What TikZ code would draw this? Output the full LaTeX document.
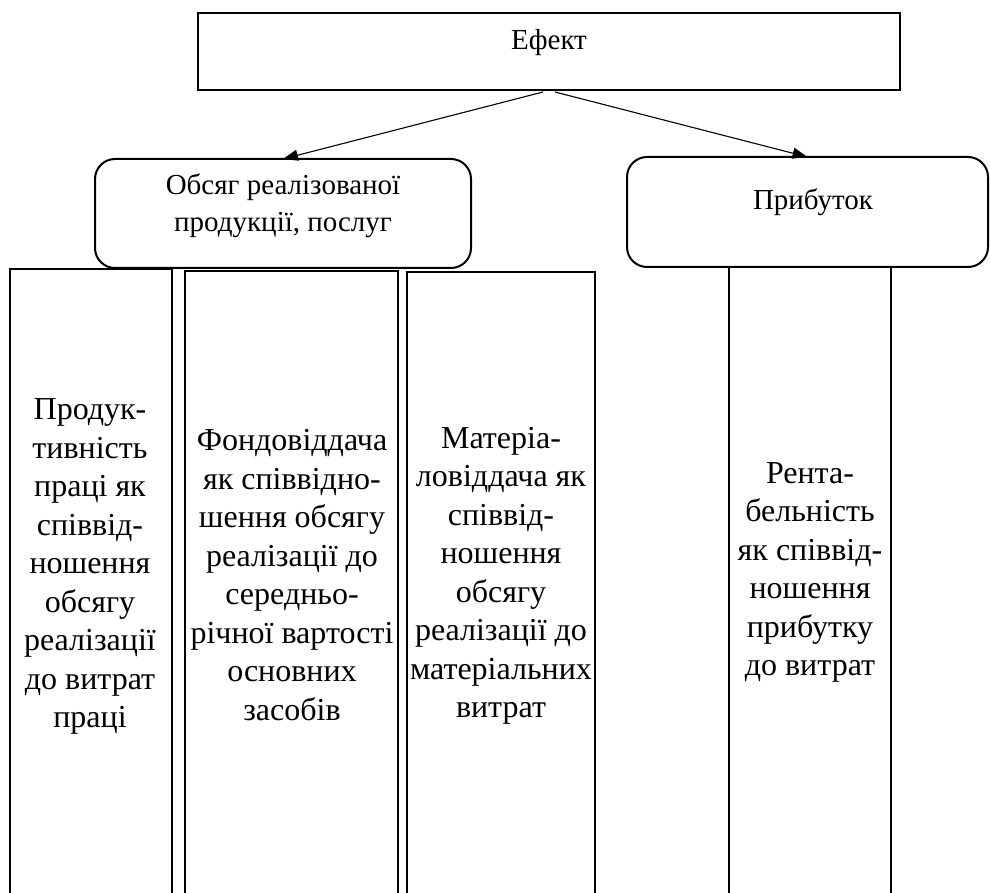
\documentclass[tikz,border=0pt]{standalone}
\usepackage{fontspec}
\setmainfont{Liberation Serif}
\usetikzlibrary{arrows.meta}
\begin{document}
\begin{tikzpicture}[x=1pt,y=-1pt,
  box/.style={draw, line width=2pt, inner sep=0pt, outer sep=0pt},
  rbox/.style={box, rounded corners=20pt},
  colshape/.style={inner sep=0pt, outer sep=0pt},
  colline/.style={line width=1.8pt},
  arr/.style={line width=1.1pt, -{Triangle[length=15pt,width=11pt]}},
  head/.style={font=\fontsize{29}{37}\selectfont, align=center, inner sep=0pt},
  body/.style={font=\fontsize{32}{38.5}\selectfont, align=center, inner sep=0pt},
]
\useasboundingbox (0,0) rectangle (990,893);

% top level
\node[box, minimum width=702pt, minimum height=77pt] (effect) at (549,51.5) {};
\node[head] (effectT) at (549,43) {Ефект};

% second level
\node[rbox, minimum width=376pt, minimum height=109pt] (vol) at (283,213.5) {};
\node[head] (volT) at (283,206) {Обсяг реалізованої\\продукції, послуг};
\node[rbox, minimum width=361pt, minimum height=110pt] (profit) at (807.5,212) {};
\node[head] (profitT) at (813,202) {Прибуток};

% connectors
\coordinate (e1) at (543,92);
\coordinate (e2) at (555,92);
\draw[arr] (e1) -- (vol.north);
\draw[arr] (e2) -- (profit.north);

% indicator columns (open at the bottom)
\node[colshape, minimum width=162pt, minimum height=624pt] (c1) at (91,581) {};
\node[colshape, minimum width=213pt, minimum height=622pt] (c2) at (291.5,582) {};
\node[colshape, minimum width=188pt, minimum height=621pt] (c3) at (501,582.5) {};
\node[colshape, minimum width=162pt, minimum height=626pt] (c4) at (810,580) {};
\draw[colline] (c1.south west) |- (c1.north east) -- (c1.south east);
\draw[colline] (c2.south west) |- (c2.north east) -- (c2.south east);
\draw[colline] (c3.south west) |- (c3.north east) -- (c3.south east);
\draw[colline] (c4.south west) -- (c4.north west);
\draw[colline] (c4.north east) -- (c4.south east);

% column texts
\node[body] (t1) at (90,566.5) {Продук-\\тивність\\праці як\\співвід-\\ношення\\обсягу\\реалізації\\до витрат\\праці};
\node[body] (t2) at (292,575) {Фондовіддача\\як співвідно-\\шення обсягу\\реалізації до\\середньо-\\річної вартості\\основних\\засобів};
\node[body] (t3) at (501,576) {Матеріа-\\ловіддача як\\співвід-\\ношення\\обсягу\\реалізації до\\матеріальних\\витрат};
\node[body] (t4) at (810,572.5) {Рента-\\бельність\\як співвід-\\ношення\\прибутку\\до витрат};
\end{tikzpicture}
\end{document}
